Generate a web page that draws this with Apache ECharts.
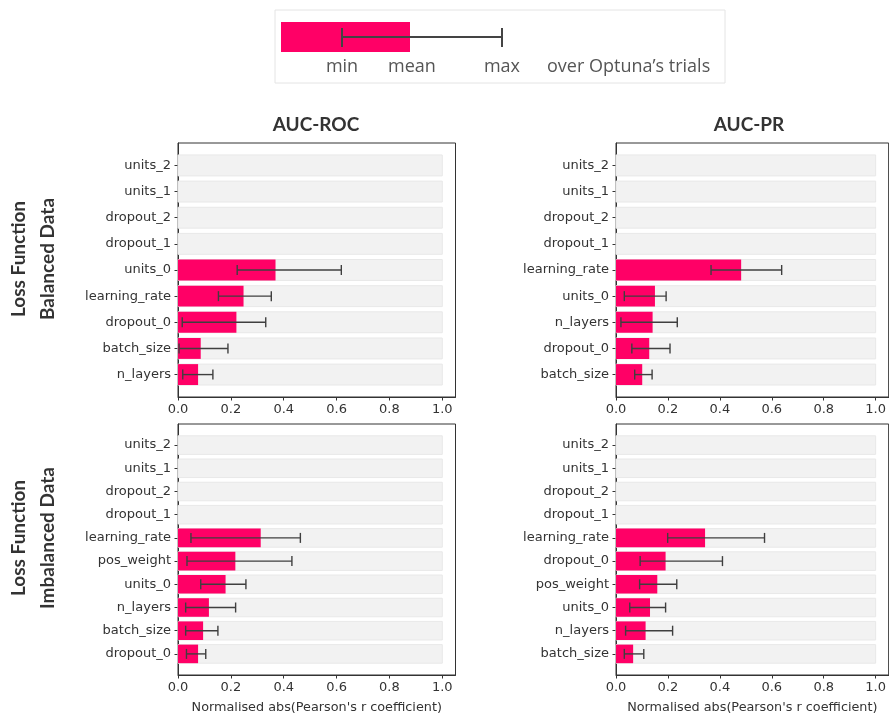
<!DOCTYPE html>
<html>
<head>
<meta charset="utf-8">
<title>Hyperparameter importance</title>
<script src="https://cdn.jsdelivr.net/npm/echarts@6/dist/echarts.min.js"></script>
<style>
  html, body { margin: 0; padding: 0; background: #ffffff; }
  #chart { width: 889px; height: 716px; }
</style>
</head>
<body>
<div id="chart"></div>
<script>
// Normalised |Pearson r| per hyperparameter: mean bar with min–max whiskers over Optuna trials.
// Rows are listed top to bottom.

// AUC-ROC, balanced data loss
const rocBalParams = ['units_2', 'units_1', 'dropout_2', 'dropout_1', 'units_0', 'learning_rate', 'dropout_0', 'batch_size', 'n_layers'];
const rocBalMean = [0, 0, 0, 0, 0.369, 0.248, 0.221, 0.086, 0.076];
const rocBalMin  = [null, null, null, null, 0.224, 0.153, 0.016, 0.004, 0.018];
const rocBalMax  = [null, null, null, null, 0.618, 0.353, 0.332, 0.189, 0.132];

// AUC-PR, balanced data loss
const prBalParams = ['units_2', 'units_1', 'dropout_2', 'dropout_1', 'learning_rate', 'units_0', 'n_layers', 'dropout_0', 'batch_size'];
const prBalMean = [0, 0, 0, 0, 0.482, 0.150, 0.141, 0.128, 0.101];
const prBalMin  = [null, null, null, null, 0.366, 0.032, 0.019, 0.061, 0.072];
const prBalMax  = [null, null, null, null, 0.638, 0.193, 0.236, 0.208, 0.139];

// AUC-ROC, imbalanced data loss
const rocImbParams = ['units_2', 'units_1', 'dropout_2', 'dropout_1', 'learning_rate', 'pos_weight', 'units_0', 'n_layers', 'batch_size', 'dropout_0'];
const rocImbMean = [0, 0, 0, 0, 0.313, 0.217, 0.180, 0.117, 0.095, 0.076];
const rocImbMin  = [null, null, null, null, 0.049, 0.034, 0.086, 0.029, 0.029, 0.032];
const rocImbMax  = [null, null, null, null, 0.463, 0.431, 0.257, 0.218, 0.151, 0.105];

// AUC-PR, imbalanced data loss
const prImbParams = ['units_2', 'units_1', 'dropout_2', 'dropout_1', 'learning_rate', 'dropout_0', 'pos_weight', 'units_0', 'n_layers', 'batch_size'];
const prImbMean = [0, 0, 0, 0, 0.343, 0.191, 0.159, 0.131, 0.114, 0.066];
const prImbMin  = [null, null, null, null, 0.199, 0.093, 0.091, 0.053, 0.037, 0.032];
const prImbMax  = [null, null, null, null, 0.572, 0.410, 0.234, 0.191, 0.218, 0.107];

const xTicks = [0, 0.2, 0.4, 0.6, 0.8, 1.0];
const trackMax = 1.0;

const columnTitles = ['AUC-ROC', 'AUC-PR'];
const rowTitles = ['Loss Function\nBalanced Data', 'Loss Function\nImbalanced Data'];
const xAxisTitle = "Normalised abs(Pearson's r coefficient)";

const PINK = '#ff0066';
const WHISKER = '#3f3f3f';
const TEXT = '#333333';
const TICK_FONT = 'DejaVu Sans';

const panels = [
  { params: rocBalParams, mean: rocBalMean, min: rocBalMin, max: rocBalMax, rect: [178, 143, 277.5, 254], bottom: false },
  { params: prBalParams,  mean: prBalMean,  min: prBalMin,  max: prBalMax,  rect: [616, 143, 277.5, 254], bottom: false },
  { params: rocImbParams, mean: rocImbMean, min: rocImbMin, max: rocImbMax, rect: [178, 424, 277.5, 251], bottom: true },
  { params: prImbParams,  mean: prImbMean,  min: prImbMin,  max: prImbMax,  rect: [616, 424, 277.5, 251], bottom: true }
];

// One row: light track up to trackMax, pink mean bar, min–max whisker with caps.
function makeRenderer(p) {
  return function (params, api) {
    const i = params.dataIndex;
    const row = api.value(0);
    const mean = api.value(1);
    const band = Math.abs(api.size([0, 1])[1]);
    const h = band * 0.8;
    const p0 = api.coord([0, row]);
    const pTrack = api.coord([trackMax, row]);
    const pMean = api.coord([mean, row]);
    const children = [
      { type: 'rect', shape: { x: p0[0], y: p0[1] - h / 2, width: pTrack[0] - p0[0], height: h },
        style: { fill: '#f2f2f2', stroke: '#e8e8e8', lineWidth: 1 } }
    ];
    if (mean > 0) {
      children.push({ type: 'rect', shape: { x: p0[0], y: p0[1] - h / 2, width: pMean[0] - p0[0], height: h },
        style: { fill: PINK } });
    }
    const lo = p.min[i], hi = p.max[i];
    if (typeof lo === 'number' && typeof hi === 'number') {
      const a = api.coord([lo, row]);
      const b = api.coord([hi, row]);
      const cap = 5;
      const ls = { stroke: WHISKER, lineWidth: 1.4 };
      children.push({ type: 'line', shape: { x1: a[0], y1: a[1], x2: b[0], y2: b[1] }, style: ls });
      children.push({ type: 'line', shape: { x1: a[0], y1: a[1] - cap, x2: a[0], y2: a[1] + cap }, style: ls });
      children.push({ type: 'line', shape: { x1: b[0], y1: b[1] - cap, x2: b[0], y2: b[1] + cap }, style: ls });
    }
    return { type: 'group', children: children };
  };
}

const grids = [], xAxes = [], yAxes = [], series = [];
panels.forEach(function (p, k) {
  const n = p.params.length;
  const idx = p.params.map(function (_, i) { return i; });
  // margin around bars of height 0.8
  const pad = 0.4 + 0.052 * (n - 1 + 0.8);
  grids.push({ left: p.rect[0], top: p.rect[1], width: p.rect[2], height: p.rect[3],
    show: true, borderColor: '#333', borderWidth: 1, backgroundColor: 'transparent', containLabel: false });
  xAxes.push({
    type: 'value', gridIndex: k, min: 0, max: 1.05, position: 'bottom',
    axisLine: { show: true, onZero: false, lineStyle: { color: '#333', width: 1 } },
    axisTick: { show: true, length: 3.5, lineStyle: { color: '#333' }, customValues: xTicks },
    axisLabel: { show: true, customValues: xTicks, margin: 6.5, color: TEXT, fontSize: 13, fontFamily: TICK_FONT,
      formatter: function (v) { return Number(v).toFixed(1); } },
    splitLine: { show: false },
    name: p.bottom ? xAxisTitle : '', nameLocation: 'middle', nameGap: 26,
    nameTextStyle: { color: TEXT, fontSize: 12.8, fontFamily: TICK_FONT }
  });
  yAxes.push({
    type: 'value', gridIndex: k, inverse: true, min: -pad, max: n - 1 + pad, position: 'left',
    axisLine: { show: true, onZero: false, lineStyle: { color: '#333', width: 1 } },
    axisTick: { show: true, length: 3.5, lineStyle: { color: '#333' }, customValues: idx },
    axisLabel: { show: true, customValues: idx, margin: 7, color: TEXT, fontSize: 13, fontFamily: TICK_FONT,
      formatter: function (v) { return p.params[Math.round(v)]; } },
    splitLine: { show: false }
  });
  series.push({
    type: 'custom', xAxisIndex: k, yAxisIndex: k, clip: false,
    encode: { x: 1, y: 0 },
    data: p.params.map(function (_, i) { return [i, p.mean[i]]; }),
    renderItem: makeRenderer(p),
    silent: true
  });
});

const LEGEND_FONT = '18px "Open Sans"';
const graphics = [
  // key explaining the bar and whiskers
  { type: 'rect', shape: { x: 275, y: 10, width: 450, height: 73 }, style: { fill: '#fff', stroke: '#e4e4e4', lineWidth: 1 } },
  { type: 'rect', shape: { x: 281, y: 22, width: 129, height: 30 }, style: { fill: PINK } },
  { type: 'line', shape: { x1: 342, y1: 37, x2: 502, y2: 37 }, style: { stroke: '#444', lineWidth: 2 } },
  { type: 'line', shape: { x1: 342, y1: 28, x2: 342, y2: 47 }, style: { stroke: '#444', lineWidth: 2 } },
  { type: 'line', shape: { x1: 502, y1: 28, x2: 502, y2: 47 }, style: { stroke: '#444', lineWidth: 2 } },
  { type: 'text', x: 342, y: 67, style: { text: 'min', fill: '#555', font: LEGEND_FONT, textAlign: 'center', textVerticalAlign: 'middle' } },
  { type: 'text', x: 412, y: 67, style: { text: 'mean', fill: '#555', font: LEGEND_FONT, textAlign: 'center', textVerticalAlign: 'middle' } },
  { type: 'text', x: 502, y: 67, style: { text: 'max', fill: '#555', font: LEGEND_FONT, textAlign: 'center', textVerticalAlign: 'middle' } },
  { type: 'text', x: 547, y: 67, style: { text: 'over Optuna\u2019s trials', fill: '#555', font: LEGEND_FONT, textAlign: 'left', textVerticalAlign: 'middle' } },
  // column headings
  { type: 'text', x: 316, y: 125, style: { text: columnTitles[0], fill: TEXT, font: 'bold 19px Lato', textAlign: 'center', textVerticalAlign: 'middle' } },
  { type: 'text', x: 749, y: 125, style: { text: columnTitles[1], fill: TEXT, font: 'bold 19px Lato', textAlign: 'center', textVerticalAlign: 'middle' } },
  // row headings, rotated to read bottom-to-top
  { type: 'text', x: 33, y: 259, rotation: Math.PI / 2,
    style: { text: rowTitles[0], fill: TEXT, font: 'bold 19px Lato', lineHeight: 29, textAlign: 'center', textVerticalAlign: 'middle' } },
  { type: 'text', x: 33, y: 538, rotation: Math.PI / 2,
    style: { text: rowTitles[1], fill: TEXT, font: 'bold 19px Lato', lineHeight: 29, textAlign: 'center', textVerticalAlign: 'middle' } }
];

const chart = echarts.init(document.getElementById('chart'), null, { renderer: 'canvas' });
chart.setOption({
  backgroundColor: '#ffffff',
  animation: false,
  grid: grids,
  xAxis: xAxes,
  yAxis: yAxes,
  series: series,
  graphic: graphics
});
</script>
</body>
</html>
